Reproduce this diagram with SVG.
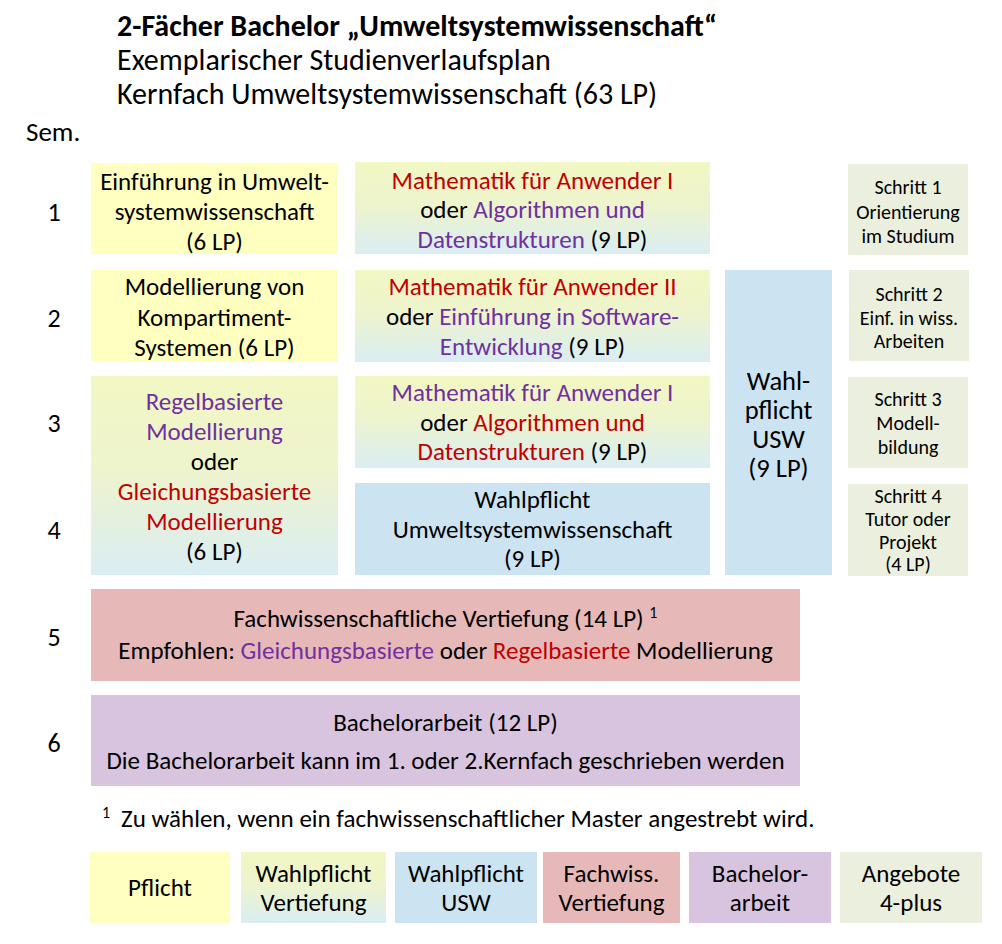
<svg xmlns="http://www.w3.org/2000/svg" width="1002" height="944" viewBox="0 0 1002 944">
<defs>
<linearGradient id="gv" x1="0" y1="0" x2="0" y2="1">
<stop offset="0" stop-color="#F2F7C4"/>
<stop offset="0.45" stop-color="#EEF4CC"/>
<stop offset="1" stop-color="#DAEDF3"/>
</linearGradient>
<style>
text{font-family:Carlito,Lato,"Liberation Sans",sans-serif;fill:#000;}
.t{font-size:25px;text-anchor:middle;}
.s{font-size:20px;text-anchor:middle;}
.w{font-size:26.5px;text-anchor:middle;}
.n{font-size:26px;text-anchor:middle;}
.h{font-size:30px;}
.r{fill:#C00000;}
.p{fill:#7030A0;}
.y{fill:#FFFFC0;}
.g{fill:url(#gv);}
.b{fill:#CCE4F1;}
.k{fill:#EBF0DE;}
.f{fill:#E6B9B8;}
.m{fill:#D9C4DF;}
</style>
</defs>
<rect width="1002" height="944" fill="#FFFFFF"/>
<g id="title">
<text class="h" x="117" y="36" font-weight="bold">2-Fächer Bachelor „Umweltsystemwissenschaft“</text>
<text class="h" x="117" y="70">Exemplarischer Studienverlaufsplan</text>
<text class="h" x="117" y="104">Kernfach Umweltsystemwissenschaft (63 LP)</text>
<text x="26" y="141" font-size="27">Sem.</text>
</g>
<g id="semesters">
<text class="n" x="54" y="221">1</text>
<text class="n" x="54" y="327">2</text>
<text class="n" x="54" y="432">3</text>
<text class="n" x="54" y="539">4</text>
<text class="n" x="54" y="646">5</text>
<text class="n" x="54" y="752">6</text>
</g>
<g id="einfuehrung">
<rect class="y" x="91" y="163" width="247" height="91"/>
<text class="t" x="214.5" y="190">Einführung in Umwelt-</text>
<text class="t" x="214.5" y="220">systemwissenschaft</text>
<text class="t" x="214.5" y="250">(6 LP)</text>
</g>
<g id="mathe1">
<rect class="g" x="355" y="162" width="355" height="92"/>
<text class="t" x="532.5" y="189"><tspan class="r">Mathematik für Anwender I</tspan></text>
<text class="t" x="532.5" y="218">oder <tspan class="p">Algorithmen und</tspan></text>
<text class="t" x="532.5" y="248"><tspan class="p">Datenstrukturen</tspan> (9 LP)</text>
</g>
<g id="schritt1">
<rect class="k" x="848" y="164" width="120" height="91"/>
<text class="s" x="908" y="194">Schritt 1</text>
<text class="s" x="908" y="219">Orientierung</text>
<text class="s" x="908" y="243">im Studium</text>
</g>
<g id="modellierung">
<rect class="y" x="91" y="270" width="247" height="92"/>
<text class="t" x="214.5" y="295">Modellierung von</text>
<text class="t" x="214.5" y="326">Kompartiment-</text>
<text class="t" x="214.5" y="356">Systemen (6 LP)</text>
</g>
<g id="mathe2">
<rect class="g" x="355" y="270" width="355" height="92"/>
<text class="t" x="532.5" y="295"><tspan class="r">Mathematik für Anwender II</tspan></text>
<text class="t" x="532.5" y="325">oder <tspan class="p">Einführung in Software-</tspan></text>
<text class="t" x="532.5" y="355"><tspan class="p">Entwicklung</tspan> (9 LP)</text>
</g>
<g id="wahlusw">
<rect class="b" x="725" y="270" width="107" height="305"/>
<text class="w" x="778.5" y="389.5">Wahl-</text>
<text class="w" x="778.5" y="418.5">pflicht</text>
<text class="w" x="778.5" y="447.5">USW</text>
<text class="w" x="778.5" y="476.5">(9 LP)</text>
</g>
<g id="schritt2">
<rect class="k" x="849" y="270" width="120" height="91"/>
<text class="s" x="909" y="301">Schritt 2</text>
<text class="s" x="909" y="325">Einf. in wiss.</text>
<text class="s" x="909" y="348">Arbeiten</text>
</g>
<g id="regelbasiert">
<rect class="g" x="91" y="376" width="247" height="199"/>
<text class="t p" x="214.5" y="410">Regelbasierte</text>
<text class="t p" x="214.5" y="440">Modellierung</text>
<text class="t" x="214.5" y="470">oder</text>
<text class="t r" x="214.5" y="500">Gleichungsbasierte</text>
<text class="t r" x="214.5" y="530">Modellierung</text>
<text class="t" x="214.5" y="560">(6 LP)</text>
</g>
<g id="mathe3">
<rect class="g" x="355" y="376" width="355" height="92"/>
<text class="t" x="532.5" y="401"><tspan class="p">Mathematik für Anwender I</tspan></text>
<text class="t" x="532.5" y="431">oder <tspan class="r">Algorithmen und</tspan></text>
<text class="t" x="532.5" y="460"><tspan class="r">Datenstrukturen</tspan> (9 LP)</text>
</g>
<g id="wahlpflicht4">
<rect class="b" x="355" y="483" width="355" height="92"/>
<text class="t" x="532.5" y="508">Wahlpflicht</text>
<text class="t" x="532.5" y="538">Umweltsystemwissenschaft</text>
<text class="t" x="532.5" y="567">(9 LP)</text>
</g>
<g id="schritt3">
<rect class="k" x="848" y="377" width="120" height="91"/>
<text class="s" x="908" y="406">Schritt 3</text>
<text class="s" x="908" y="430">Modell-</text>
<text class="s" x="908" y="454">bildung</text>
</g>
<g id="schritt4">
<rect class="k" x="848" y="484" width="120" height="92"/>
<text class="s" x="908" y="503">Schritt 4</text>
<text class="s" x="908" y="526">Tutor oder</text>
<text class="s" x="908" y="549">Projekt</text>
<text class="s" x="908" y="571">(4 LP)</text>
</g>
<g id="vertiefung">
<rect class="f" x="91" y="589" width="709" height="92"/>
<text class="t" x="445.5" y="627">Fachwissenschaftliche Vertiefung (14 LP) <tspan font-size="16" dy="-9">1</tspan></text>
<text class="t" x="445.5" y="659">Empfohlen: <tspan class="p">Gleichungsbasierte</tspan> oder <tspan class="r">Regelbasierte</tspan> Modellierung</text>
</g>
<g id="bachelorarbeit">
<rect class="m" x="91" y="695" width="709" height="91"/>
<text class="t" x="445.5" y="731">Bachelorarbeit (12 LP)</text>
<text class="t" x="445.5" y="769">Die Bachelorarbeit kann im 1. oder 2.Kernfach geschrieben werden</text>
</g>
<g id="footnote">
<text x="102" y="818" font-size="16">1</text>
<text x="121" y="827" font-size="25">Zu wählen, wenn ein fachwissenschaftlicher Master angestrebt wird.</text>
</g>
<g id="legend">
<rect class="y" x="90" y="852" width="140" height="71"/>
<text class="t" x="160" y="896">Pflicht</text>
<rect class="g" x="241" y="852" width="145" height="71"/>
<text class="t" x="313.5" y="882">Wahlpflicht</text>
<text class="t" x="313.5" y="911">Vertiefung</text>
<rect class="b" x="395" y="852" width="142" height="71"/>
<text class="t" x="466" y="882">Wahlpflicht</text>
<text class="t" x="466" y="911">USW</text>
<rect class="f" x="543" y="852" width="137" height="71"/>
<text class="t" x="611.5" y="882">Fachwiss.</text>
<text class="t" x="611.5" y="911">Vertiefung</text>
<rect class="m" x="689" y="852" width="142" height="71"/>
<text class="t" x="760" y="882">Bachelor-</text>
<text class="t" x="760" y="911">arbeit</text>
<rect class="k" x="840" y="852" width="142" height="71"/>
<text class="t" x="911" y="882">Angebote</text>
<text class="t" x="911" y="911">4-plus</text>
</g>
<g id="connectors"></g>
</svg>
